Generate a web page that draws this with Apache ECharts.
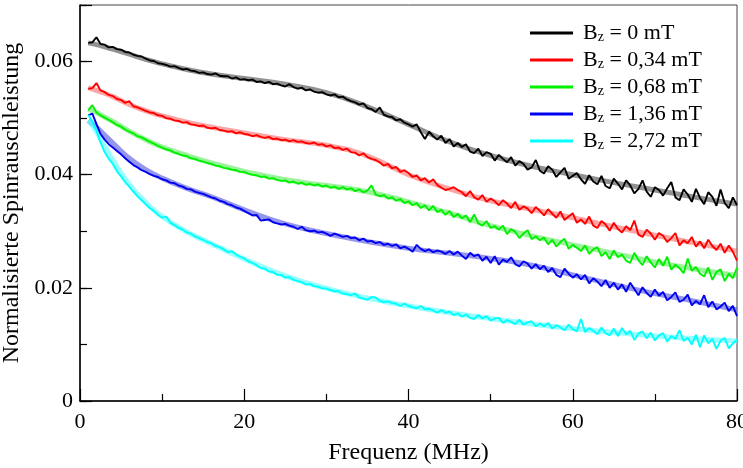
<!DOCTYPE html>
<html><head><meta charset="utf-8">
<script src="https://cdn.jsdelivr.net/npm/echarts@6/dist/echarts.min.js"></script>
<style>html,body{margin:0;padding:0;background:#fff}#c{width:743px;height:468px}</style>
</head><body><div id="c"></div>
<script>
// frequency (MHz) of the measured points
const freq = [
1,1.5,2,2.5,3,3.5,4,4.5,5,5.5,
6,6.5,7,7.5,8,8.5,9,9.5,10,10.5,
11,11.5,12,12.5,13,13.5,14,14.5,15,15.5,
16,16.5,17,17.5,18,18.5,19,19.5,20,20.5,
21,21.5,22,22.5,23,23.5,24,24.5,25,25.5,
26,26.5,27,27.5,28,28.5,29,29.5,30,30.5,
31,31.5,32,32.5,33,33.5,34,34.5,35,35.5,
36,36.5,37,37.5,38,38.5,39,39.5,40,40.5,
41,41.5,42,42.5,43,43.5,44,44.5,45,45.5,
46,46.5,47,47.5,48,48.5,49,49.5,50,50.5,
51,51.5,52,52.5,53,53.5,54,54.5,55,55.5,
56,56.5,57,57.5,58,58.5,59,59.5,60,60.5,
61,61.5,62,62.5,63,63.5,64,64.5,65,65.5,
66,66.5,67,67.5,68,68.5,69,69.5,70,70.5,
71,71.5,72,72.5,73,73.5,74,74.5,75,75.5,
76,76.5,77,77.5,78,78.5,79,79.5,80];

// measured values in units of 1e-3
const UNIT = 0.001;
const b000 = [
63.3,63.4,64.3,63.1,63.0,62.5,62.6,62.2,62.1,61.7,
61.6,61.2,61.0,60.9,60.5,60.2,60.1,59.7,59.6,59.4,
59.1,59.2,58.9,58.6,58.7,58.4,58.3,58.0,58.1,57.8,
57.7,57.9,57.5,57.4,57.4,57.0,57.2,56.8,56.9,56.7,
56.8,56.4,56.5,56.2,56.4,56.0,56.1,55.8,55.6,56.0,
55.5,55.2,55.4,54.9,55.1,54.7,54.5,54.6,54.2,54.0,
54.2,53.7,53.8,53.3,53.0,52.8,52.4,52.6,51.8,51.6,
51.1,51.9,50.6,50.3,50.2,49.6,49.8,49.2,48.9,48.5,
48.9,47.5,46.3,47.6,46.8,46.2,46.9,45.6,46.3,45.0,
45.6,44.9,45.4,44.1,43.8,44.6,43.3,44.0,43.7,42.5,
43.5,42.8,42.2,43.1,41.6,42.4,41.9,40.9,41.3,42.6,
40.7,40.2,41.5,40.9,39.6,40.4,41.2,39.3,39.8,40.3,
39.2,38.4,39.9,38.8,38.3,39.8,38.0,37.6,39.3,38.4,
37.4,39.0,38.1,36.7,37.5,39.0,37.0,36.1,37.8,37.3,
36.3,37.6,38.7,36.0,35.5,37.4,36.5,35.2,37.5,35.9,
34.8,36.9,36.1,34.5,37.4,35.0,34.1,36.0,34.6];
const b034 = [
55.2,55.3,56.2,54.9,54.6,54.1,53.9,53.4,53.2,52.7,
53.0,52.1,51.9,51.6,51.3,51.0,50.9,50.5,50.4,50.0,
49.9,49.6,49.5,49.2,49.3,48.9,48.8,48.6,48.7,48.3,
48.2,48.3,47.9,47.8,47.6,47.7,47.3,47.5,47.2,47.1,
46.8,47.0,46.7,46.5,46.7,46.3,46.4,46.1,46.2,45.9,
46.1,45.8,45.9,45.6,45.5,45.7,45.3,45.4,45.0,45.2,
44.7,44.8,44.4,44.6,44.0,43.9,43.4,43.8,43.1,42.8,
42.6,42.2,41.6,41.9,41.1,41.4,40.5,40.8,40.3,39.6,
39.9,39.0,39.4,38.6,39.2,38.2,37.7,37.3,37.5,37.8,
37.3,36.9,36.2,37.1,36.0,35.6,36.4,35.2,35.8,35.3,
34.6,35.5,34.9,34.1,35.2,33.8,34.4,34.0,33.2,34.3,
33.6,32.8,33.9,33.1,32.4,33.5,32.0,32.6,33.2,31.5,
32.1,31.3,32.6,31.0,30.6,31.8,31.2,30.1,31.5,30.4,
29.8,30.9,30.2,31.9,29.4,29.0,30.3,29.6,28.5,29.7,
29.2,28.1,28.8,29.7,27.5,28.4,27.9,29.0,27.3,28.2,
27.0,28.5,27.4,26.7,27.8,26.2,27.5,26.4,24.8];
const b068 = [
51.4,52.3,51.0,50.5,50.1,49.7,49.3,48.8,48.5,48.0,
47.6,47.3,46.8,46.6,46.2,45.8,45.5,45.1,44.8,44.5,
44.3,43.9,43.7,43.4,43.3,42.9,42.8,42.5,42.3,42.1,
41.9,41.6,41.5,41.2,41.1,40.9,40.8,40.5,40.5,40.2,
40.0,39.9,39.6,39.7,39.3,39.4,39.1,38.9,39.0,38.6,
38.8,38.4,38.6,38.2,38.4,38.1,38.3,37.9,38.1,37.7,
37.9,37.5,37.8,37.4,37.6,37.1,37.4,36.9,37.2,38.1,
36.5,36.2,36.4,35.8,36.0,35.4,35.7,35.0,35.3,34.6,
35.0,34.1,34.6,33.7,34.5,33.4,33.8,32.9,33.6,32.5,
33.1,32.3,32.8,31.6,33.0,31.4,31.0,31.8,30.6,30.9,
30.3,31.0,29.5,30.4,29.9,28.8,29.6,30.2,28.6,29.1,
28.4,28.9,27.7,28.5,27.3,28.1,28.7,26.9,27.6,27.1,
26.5,27.5,26.0,26.8,27.2,25.6,26.3,25.1,26.6,25.4,
25.9,24.8,24.4,26.2,24.9,24.0,25.6,24.5,23.6,25.1,
23.9,25.5,23.2,24.1,23.5,22.6,25.2,23.0,23.7,22.5,
22.0,23.6,21.4,22.8,23.3,21.2,22.5,21.7,23.6];
const b136 = [
50.5,50.8,49.0,47.2,46.2,45.4,44.8,44.2,43.6,42.9,
42.3,41.7,41.3,40.8,40.5,40.1,39.8,39.6,39.2,39.0,
38.6,38.5,38.1,37.9,37.5,37.4,37.0,36.8,36.6,36.3,
36.0,35.8,35.4,35.2,34.8,34.6,34.2,34.0,33.6,33.2,
32.8,32.9,31.9,32.0,32.1,31.6,31.4,31.2,31.3,31.0,
30.8,30.4,30.8,30.2,30.0,30.1,29.8,29.9,29.6,29.2,
29.6,29.3,29.0,29.2,28.8,28.9,28.4,28.7,28.2,28.3,
27.9,28.1,27.6,27.8,27.4,27.7,27.0,27.3,26.9,26.4,
27.6,26.9,26.5,26.8,26.3,26.6,26.4,26.0,26.5,25.9,
26.4,25.7,25.1,26.2,25.6,25.9,24.8,25.5,24.4,25.6,
24.1,25.0,24.6,25.4,24.2,23.8,24.7,24.3,23.4,24.2,
23.3,23.9,22.8,23.5,22.3,21.9,23.4,22.5,21.8,22.4,
21.5,22.3,20.8,21.7,21.1,20.3,21.4,20.0,20.9,19.7,
20.6,19.3,20.9,19.8,18.7,20.1,19.1,18.4,19.7,18.6,
19.3,17.8,18.4,19.2,17.5,17.9,18.8,16.9,17.7,17.1,
18.7,16.6,17.6,16.2,16.7,17.4,15.9,16.8,15.0];
const b272 = [
50.6,49.4,47.8,45.7,44.0,42.8,41.9,40.6,39.7,38.7,
37.9,37.0,36.2,35.5,34.8,34.1,33.6,32.9,32.4,32.6,
31.5,31.1,30.6,30.3,29.8,29.6,29.1,28.8,28.5,28.1,
27.9,27.4,27.2,26.8,26.3,26.5,25.9,25.5,25.2,24.7,
24.4,24.0,23.5,23.4,22.9,22.8,22.3,22.3,21.8,21.9,
21.4,21.2,21.0,20.6,20.7,20.3,20.2,19.9,19.9,19.6,
19.4,19.4,19.0,18.9,18.7,19.0,18.3,18.1,17.9,18.4,
18.3,17.7,17.5,17.6,17.3,17.2,16.8,17.2,16.8,16.6,
16.4,16.8,16.2,16.3,16.0,15.6,16.1,15.6,15.8,15.2,
15.5,14.9,15.3,14.7,14.5,15.2,14.6,15.0,14.2,14.6,
14.7,13.8,14.3,14.0,13.6,14.4,13.5,13.9,14.1,13.2,
13.7,13.2,13.8,12.8,13.4,13.0,12.5,13.5,12.7,12.3,
14.5,12.2,12.9,12.4,11.8,13.0,12.0,11.6,12.8,11.5,
12.9,11.8,12.4,10.8,11.9,12.3,11.1,12.1,10.7,11.6,
12.0,10.5,11.5,11.0,12.5,10.6,11.2,10.0,11.7,9.5,
11.6,10.2,11.0,9.2,10.7,11.1,9.3,10.2,10.8];

// fitted curves (units of 1e-3)
const fitFreq = [1,2,3,4,6,8,10,13,16,20,25,30,35,40,45,50,55,60,65,70,75,80];
const f000 = [63.3,63.0,62.6,62.2,61.3,60.4,59.6,58.6,57.8,57.0,56.0,54.5,52.0,48.9,45.8,43.4,41.5,40.0,38.6,37.3,36.0,34.8];
const f034 = [55.4,54.9,54.4,53.8,52.4,51.3,50.4,49.3,48.4,47.4,46.2,45.2,43.3,40.0,37.5,35.4,33.9,32.4,30.8,29.3,27.9,26.5];
const f068 = [51.6,51.0,50.2,49.4,47.7,46.2,44.9,43.4,42.1,40.6,39.1,38.1,37.0,35.2,33.2,31.0,29.2,27.6,26.1,24.6,23.3,22.2];
const f136 = [49.6,48.4,47.0,45.6,42.9,40.9,39.4,37.6,36.1,33.8,31.3,29.6,28.2,27.0,26.1,25.2,24.0,22.3,20.6,19.0,17.6,16.1];
const f272 = [49.6,47.6,45.0,42.6,38.3,35.1,32.6,29.9,27.8,25.1,22.1,19.9,18.2,16.8,15.6,14.6,13.6,12.8,12.1,11.5,11.0,10.6];

const fieldLabels = ['0', '0,34', '0,68', '1,36', '2,72'];
const xTickLabels = ['0', '20', '40', '60', '80'];
const yTickLabels = ['0', '0.02', '0.04', '0.06'];
const xTickValues = [0, 20, 40, 60, 80];
const yTickValues = [0, 0.02, 0.04, 0.06];

const measured = [b000, b034, b068, b136, b272];
const fitted = [f000, f034, f068, f136, f272];
const colors = ['#000000', '#ff0000', '#00f000', '#0000f0', '#00ffff'];
const fitColors = ['rgba(110,110,110,0.75)', 'rgba(255,90,90,0.55)', 'rgba(70,235,70,0.55)', 'rgba(80,80,225,0.6)', 'rgba(110,255,255,0.7)'];

const names = fieldLabels.map(f => 'Bz = ' + f + ' mT');
const series = [];
fitted.forEach((arr, k) => {
  series.push({
    type: 'line', name: 'fit' + k, silent: true, showSymbol: false, smooth: 0.5,
    lineStyle: { width: 5, color: fitColors[k] }, itemStyle: { color: fitColors[k] },
    data: arr.map((v, i) => [fitFreq[i], v * UNIT]), z: 1
  });
});
measured.forEach((arr, k) => {
  series.push({
    type: 'line', name: names[k], showSymbol: false,
    lineStyle: { width: 1.9, color: colors[k] }, itemStyle: { color: colors[k] },
    data: arr.map((v, i) => [freq[i], v * UNIT]), z: 3
  });
});

const FONT = '"Liberation Serif", "Times New Roman", serif';
const near = (a, b) => Math.abs(a - b) < 1e-9;
const chart = echarts.init(document.getElementById('c'));
chart.setOption({
  animation: false,
  backgroundColor: '#fff',
  grid: { left: 80, right: 6, top: 5, bottom: 67, outerBoundsMode: 'none', containLabel: false,
          show: true, borderColor: '#444', borderWidth: 1, backgroundColor: 'transparent' },
  legend: {
    data: names, orient: 'vertical', left: 530, top: 22, padding: 0, itemWidth: 43, itemHeight: 3, itemGap: 5, icon: 'rect',
    formatter: name => { const k = names.indexOf(name); return '{b|B}{s|z}{t| = ' + fieldLabels[k] + ' mT}'; },
    textStyle: { fontFamily: FONT, color: '#000', fontSize: 22,
      rich: {
        b: { fontFamily: FONT, fontSize: 22, lineHeight: 22, padding: [0, 0, 0, 5] },
        s: { fontFamily: FONT, fontSize: 14, lineHeight: 13, verticalAlign: 'bottom' },
        t: { fontFamily: FONT, fontSize: 22, lineHeight: 22 }
      } }
  },
  xAxis: {
    type: 'value', min: 0, max: 80, interval: 20,
    name: 'Frequenz (MHz)', nameLocation: 'middle', nameGap: 40,
    nameTextStyle: { fontFamily: FONT, fontSize: 24, color: '#000' },
    axisLine: { lineStyle: { color: '#000', width: 1.5 } },
    axisTick: { inside: true, length: 12, lineStyle: { color: '#000', width: 1.2 } },
    minorTick: { show: true, splitNumber: 2, length: 7, lineStyle: { color: '#000', width: 1.2 } },
    axisLabel: { margin: 10, fontFamily: FONT, fontSize: 22, color: '#000',
      formatter: v => { const i = xTickValues.findIndex(t => near(t, v)); return i >= 0 ? xTickLabels[i] : ''; } },
    splitLine: { show: false }
  },
  yAxis: [{
    type: 'value', min: 0, max: 0.07, interval: 0.01,
    name: 'Normalisierte Spinrauschleistung', nameLocation: 'middle', nameGap: 46,
    nameTextStyle: { fontFamily: FONT, fontSize: 24, color: '#000' },
    axisLine: { lineStyle: { color: '#000', width: 1.5 } },
    axisTick: { inside: true, length: 7, lineStyle: { color: '#000', width: 1.2 } },
    axisLabel: { margin: 7, fontFamily: FONT, fontSize: 22, color: '#000',
      formatter: v => { const i = yTickValues.findIndex(t => near(t, v)); return i >= 0 ? yTickLabels[i] : ''; } },
    splitLine: { show: false }
  }, {
    type: 'value', min: 0, max: 0.07, interval: 0.02, position: 'left',
    axisLine: { show: false },
    axisTick: { inside: true, length: 12, lineStyle: { color: '#000', width: 1.2 } },
    axisLabel: { show: false },
    splitLine: { show: false }
  }],
  series: series
});
</script>
</body></html>
